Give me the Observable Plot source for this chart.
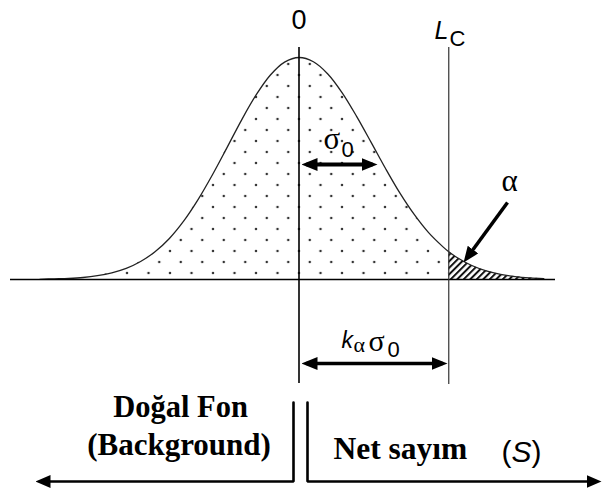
<!DOCTYPE html>
<html>
<head>
<meta charset="utf-8">
<script src="https://cdn.jsdelivr.net/npm/d3@7"></script>
<script src="https://cdn.jsdelivr.net/npm/@observablehq/plot@0.6"></script>
<style>
  html, body { margin: 0; padding: 0; background: #fff; }
</style>
</head>
<body>
<div id="chart"></div>
<script>
// Background count distribution, in units of σ0 (x) and relative height (y)
const zValues = [-3.6, -3.4, -3.2, -3.0, -2.8, -2.6, -2.4, -2.2, -2.0, -1.8, -1.6, -1.4, -1.2, -1.0, -0.8, -0.6, -0.4, -0.2,
                 0, 0.2, 0.4, 0.6, 0.8, 1.0, 1.2, 1.4, 1.6, 1.8, 2.0, 2.08, 2.2, 2.4, 2.6, 2.8, 3.0, 3.2, 3.4];
const heights = [0.001, 0.003, 0.005, 0.009, 0.017, 0.030, 0.050, 0.081, 0.125, 0.185, 0.264, 0.361, 0.473, 0.594, 0.717, 0.829, 0.920, 0.979,
                 1.000, 0.981, 0.926, 0.841, 0.735, 0.619, 0.501, 0.390, 0.293, 0.211, 0.147, 0.125, 0.098, 0.063, 0.039, 0.023, 0.013, 0.007, 0.004];

// Critical level L_C sits k_α·σ0 above zero
const kAlpha = 2.08;

// Label texts
const zeroLabel = "0";
const lcMain = "L", lcSub = "C";
const sigmaMain = "σ", sigmaSub = "0";
const kMain = "k", kSub = "α";
const alphaLabel = "α";
const backgroundLines = ["Doğal Fon", "(Background)"];
const netLabel = "Net sayım";
const netSymbol = ["(", "S", ")"];

const curve = zValues.map((z, i) => ({z, h: heights[i]}));

// Annotation layout is written in page pixels and converted to chart units
const W = 602, H = 493;
const X0 = 298.5, PX_PER_SIGMA = 72, Y0 = 279, PX_PER_UNIT = 222;
const px = v => (v - X0) / PX_PER_SIGMA;
const py = v => (Y0 - v) / PX_PER_UNIT;

const sans = "'Liberation Sans', Arial, sans-serif";
const serif = "'Liberation Serif', 'Times New Roman', serif";

const txt = (s, x, y, o = {}) => Plot.text([s], {
  x: px(x), y: py(y), text: d => d, textAnchor: "start", lineAnchor: "bottom",
  fill: "#000", fontFamily: sans, ...o
});

const plot = Plot.plot({
  width: W,
  height: H,
  margin: 0,
  style: {background: "#fff"},
  x: {domain: [px(0), px(W)], axis: null},
  y: {domain: [py(H), py(0)], axis: null},
  marks: [
    // dotted body of the distribution, hatched tail beyond L_C
    Plot.areaY(curve.filter(d => d.z <= kAlpha), {x: "z", y: "h", curve: "catmull-rom", fill: "url(#dots)"}),
    Plot.areaY(curve.filter(d => d.z >= kAlpha), {x: "z", y: "h", curve: "catmull-rom", fill: "url(#hatch)"}),
    Plot.line(curve, {x: "z", y: "h", curve: "catmull-rom", stroke: "#222", strokeWidth: 1.3}),
    // baseline, zero line and L_C line
    Plot.ruleY([0], {x1: px(10), x2: px(555), stroke: "#000", strokeWidth: 1.6}),
    Plot.ruleX([0], {y1: py(47), y2: py(383), stroke: "#000", strokeWidth: 1.6}),
    Plot.ruleX([kAlpha], {y1: py(47), y2: py(384), stroke: "#333", strokeWidth: 1.2}),
    // σ0 and k_α σ0 dimension arrows (heads at both ends)
    Plot.link([0], {x1: px(306), x2: px(372), y1: py(164), y2: py(164), stroke: "#000", strokeWidth: 4}),
    Plot.link([0], {x1: px(306), x2: px(442), y1: py(363), y2: py(363), stroke: "#000", strokeWidth: 3.5}),
    // pointer to the α tail (head at the end)
    Plot.link([0], {x1: px(507), y1: py(202), x2: px(466), y2: py(258), stroke: "#000", strokeWidth: 3.5}),
    // background / net count direction arrows
    Plot.line([[293, 402], [293, 481], [40, 481]], {x: d => px(d[0]), y: d => py(d[1]), stroke: "#000", strokeWidth: 2.6, strokeLinejoin: "miter"}),
    Plot.line([[307, 402], [307, 481], [596, 481]], {x: d => px(d[0]), y: d => py(d[1]), stroke: "#000", strokeWidth: 2.6, strokeLinejoin: "miter"}),
    // labels
    Plot.text([zeroLabel], {x: 0, y: py(28), text: d => d, textAnchor: "middle", lineAnchor: "bottom", fontFamily: sans, fontSize: 27, fill: "#000"}),
    txt(lcMain, 434, 38, {fontSize: 25, fontStyle: "italic"}),
    txt(lcSub, 449, 45, {fontSize: 22}),
    txt(sigmaMain, 323, 148, {fontFamily: serif, fontSize: 31}),
    txt(sigmaSub, 341, 156, {fontSize: 22}),
    txt(kMain, 341, 347, {fontSize: 23, fontStyle: "italic"}),
    txt(kSub, 353, 351, {fontFamily: serif, fontSize: 22}),
    txt(sigmaMain, 368, 350, {fontFamily: serif, fontSize: 30}),
    txt(sigmaSub, 387, 356, {fontSize: 22}),
    txt(alphaLabel, 501, 190, {fontFamily: serif, fontSize: 31}),
    Plot.text([backgroundLines[0]], {x: px(180), y: py(416), text: d => d, textAnchor: "middle", lineAnchor: "bottom", fontFamily: serif, fontWeight: "bold", fontSize: 30.5, fill: "#000"}),
    Plot.text([backgroundLines[1]], {x: px(178.5), y: py(454), text: d => d, textAnchor: "middle", lineAnchor: "bottom", fontFamily: serif, fontWeight: "bold", fontSize: 31, fill: "#000"}),
    txt(netLabel, 333, 458, {fontFamily: serif, fontWeight: "bold", fontSize: 31.5}),
    txt(netSymbol[0], 501, 461, {fontSize: 30}),
    txt(netSymbol[1], 511, 461, {fontSize: 30, fontStyle: "italic"}),
    txt(netSymbol[2], 531, 461, {fontSize: 30})
  ]
});

// Fill patterns and arrowheads
const svg = d3.select(plot);
const defs = svg.insert("defs", ":first-child");

const dots = defs.append("pattern")
  .attr("id", "dots").attr("patternUnits", "userSpaceOnUse")
  .attr("width", 21.5).attr("height", 22);
dots.append("circle").attr("cx", 19.5).attr("cy", 9).attr("r", 1.25).attr("fill", "#333");
dots.append("circle").attr("cx", 8.75).attr("cy", 20).attr("r", 1.25).attr("fill", "#333");

const hatch = defs.append("pattern")
  .attr("id", "hatch").attr("patternUnits", "userSpaceOnUse")
  .attr("width", 4.6).attr("height", 10).attr("patternTransform", "rotate(45)");
hatch.append("path").attr("d", "M1,0V10").attr("stroke", "#111").attr("stroke-width", 2);

function head(id, len, half, ref) {
  defs.append("marker")
    .attr("id", id).attr("markerUnits", "userSpaceOnUse")
    .attr("viewBox", `0 ${-half} ${len} ${2 * half}`)
    .attr("markerWidth", len).attr("markerHeight", 2 * half)
    .attr("refX", ref).attr("refY", 0)
    .attr("orient", "auto-start-reverse")
    .append("path").attr("d", `M0,${-half}L${len},0L0,${half}Z`).attr("fill", "#000");
}
head("head-dim", 16, 6.5, 11);
head("head-flow", 15, 6.5, 10);

// links: two dimension arrows then the α pointer; lines: the curve then the two flow arrows
const linkPaths = svg.selectAll('g[aria-label="link"] path').nodes();
linkPaths.forEach((p, i) => {
  if (i < 2) p.setAttribute("marker-start", "url(#head-dim)");
  p.setAttribute("marker-end", "url(#head-dim)");
});
const linePaths = svg.selectAll('g[aria-label="line"] path').nodes();
linePaths.slice(1).forEach(p => p.setAttribute("marker-end", "url(#head-flow)"));

document.getElementById("chart").appendChild(plot);
</script>
</body>
</html>
